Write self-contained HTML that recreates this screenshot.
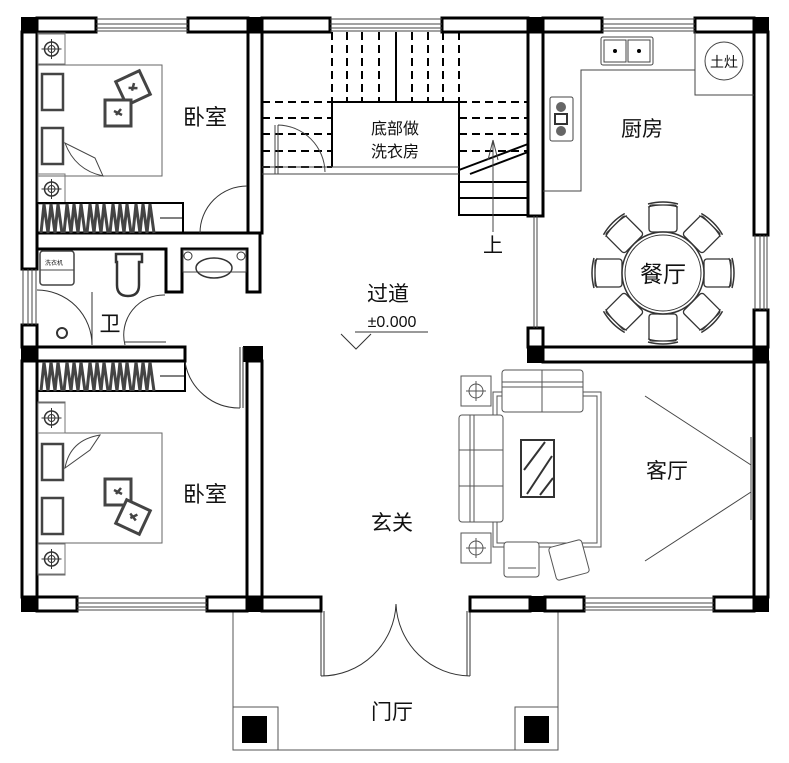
<!DOCTYPE html>
<html><head><meta charset="utf-8"><style>
html,body{margin:0;padding:0;background:#fff;}
svg{display:block;}
text{font-family:"Liberation Sans","Noto Sans CJK SC",sans-serif;fill:#111;}
</style></head><body>
<svg width="789" height="763" viewBox="0 0 789 763" xmlns="http://www.w3.org/2000/svg">
<rect width="789" height="763" fill="#fff"/>
<defs>
<g id="ns"><rect x="0" y="0" width="27" height="30" fill="none" stroke="#777" stroke-width="1"/><circle cx="13.5" cy="15" r="7" fill="none" stroke="#333" stroke-width="1.5"/><circle cx="13.5" cy="15" r="3.5" fill="none" stroke="#333"/><line x1="13.5" y1="5" x2="13.5" y2="25" stroke="#333"/><line x1="3.5" y1="15" x2="23.5" y2="15" stroke="#333"/></g>
<g id="chair"><rect x="-14" y="-13" width="28" height="27" rx="3" fill="#fff" stroke="#333" stroke-width="1.3"/><path d="M-15,-14 Q0,-18 15,-14" fill="none" stroke="#333" stroke-width="1.5"/><path d="M-15,-11 Q0,-15 15,-11" fill="none" stroke="#333" stroke-width="1"/></g>
<g id="pil"><rect x="-13" y="-13" width="26" height="26" fill="#fff" stroke="#444" stroke-width="3"/><path d="M-4,-2 L4,2 M-2,2 L3,-4" stroke="#444" stroke-width="2.5"/></g>
<g id="zig"><path d="M0,30 L3,1 L7,30 L10,1 L14,30 L17,1 L21,30" fill="none" stroke="#444" stroke-width="3"/></g>
</defs>

<!-- porch -->
<g fill="none" stroke="#555" stroke-width="1">
<line x1="233" y1="611" x2="233" y2="750"/><line x1="558" y1="611" x2="558" y2="750"/><line x1="233" y1="750" x2="558" y2="750"/>
<rect x="233" y="707" width="45" height="43"/><rect x="515" y="707" width="43" height="43"/>
</g>
<rect x="242" y="716" width="25" height="27" fill="#000"/><rect x="524" y="716" width="25" height="27" fill="#000"/>
<!-- front door -->
<g fill="none" stroke="#333" stroke-width="1">
<line x1="321" y1="611" x2="321" y2="676"/><line x1="324" y1="611" x2="324" y2="676"/>
<line x1="467" y1="611" x2="467" y2="676"/><line x1="470" y1="611" x2="470" y2="676"/>
<path d="M321,676 A75,75 0 0 0 396,604"/><path d="M470,676 A75,75 0 0 1 396,604"/>
</g>

<!-- WALLS (outlined) -->
<g fill="#fff" stroke="#000" stroke-width="3">
<rect x="37" y="18" width="59" height="14"/><rect x="188" y="18" width="60" height="14"/>
<rect x="262" y="18" width="68" height="14"/><rect x="442" y="18" width="86" height="14"/>
<rect x="543" y="18" width="59" height="14"/><rect x="695" y="18" width="59" height="14"/>
<rect x="22" y="32" width="15" height="237"/><rect x="22" y="325" width="15" height="22"/><rect x="22" y="361" width="15" height="236"/>
<rect x="754" y="32" width="14" height="203"/><rect x="754" y="310" width="14" height="37"/><rect x="754" y="362" width="14" height="235"/>
<rect x="37" y="597" width="40" height="14"/><rect x="207" y="597" width="40" height="14"/>
<rect x="262" y="597" width="59" height="14"/><rect x="470" y="597" width="60" height="14"/>
<rect x="545" y="597" width="39" height="14"/><rect x="714" y="597" width="40" height="14"/>
<rect x="248" y="32" width="14" height="201"/>
<path d="M37,233 H260 V292 H247 V249 H182 V292 H166 V249 H37 Z"/>
<rect x="37" y="347" width="148" height="14"/>
<rect x="247" y="361" width="15" height="236"/>
<rect x="528" y="32" width="15" height="184"/>
<rect x="528" y="328" width="15" height="19"/>
<rect x="543" y="347" width="211" height="15"/>
</g>
<g fill="#000">
<rect x="21" y="17" width="17" height="16"/><rect x="247" y="17" width="16" height="16"/><rect x="527" y="17" width="17" height="16"/><rect x="753" y="17" width="16" height="16"/>
<rect x="21" y="346" width="17" height="16"/><rect x="243" y="346" width="20" height="16"/>
<rect x="527" y="346" width="17" height="17"/><rect x="753" y="346" width="16" height="17"/>
<rect x="21" y="596" width="17" height="16"/><rect x="246" y="596" width="17" height="16"/><rect x="530" y="596" width="15" height="16"/><rect x="753" y="596" width="16" height="16"/>
</g>
<g stroke="#444" stroke-width="1" fill="none">
<path d="M96,19H188M96,24H188M96,28H188M96,31H188"/>
<path d="M330,19H442M330,24H442M330,28H442M330,31H442"/>
<path d="M602,19H695M602,24H695M602,28H695M602,31H695"/>
<path d="M77,598H207M77,603H207M77,607H207M77,610H207"/>
<path d="M584,598H714M584,603H714M584,607H714M584,610H714"/>
<path d="M23,269V325M28,269V325M32,269V325M36,269V325"/>
<path d="M755,235V310M760,235V310M764,235V310M767,235V310"/>
<path d="M534,216V328M537,216V328"/>
</g>

<!-- bedroom 1 -->
<g fill="none" stroke="#666" stroke-width="1">
<rect x="38" y="33" width="27" height="32"/><rect x="38" y="65" width="124" height="111"/><rect x="38" y="176" width="27" height="27"/>
</g>
<use href="#ns" x="38" y="34"/><use href="#ns" x="38" y="174"/>
<g fill="none" stroke="#444" stroke-width="2.5"><rect x="42" y="74" width="21" height="36"/><rect x="42" y="128" width="21" height="36"/></g>
<path d="M65,143 Q75,170 103,176 L95,158 Z" fill="none" stroke="#444"/>
<use href="#pil" transform="translate(133,88) rotate(-25)"/>
<use href="#pil" transform="translate(118,113)"/>
<rect x="37" y="203" width="146" height="30" fill="none" stroke="#000" stroke-width="2"/>
<line x1="160" y1="218" x2="183" y2="218" stroke="#000"/>
<g><use href="#zig" x="41" y="203"/><use href="#zig" x="64" y="203"/><use href="#zig" x="87" y="203"/><use href="#zig" x="110" y="203"/><use href="#zig" x="133" y="203"/></g>
<path d="M200,233 A47,47 0 0 1 247,186" fill="none" stroke="#333"/>

<!-- bathroom -->
<rect x="40" y="251" width="34" height="34" rx="3" fill="none" stroke="#444" stroke-width="1.5"/>
<line x1="40" y1="270" x2="74" y2="270" stroke="#444"/>
<text x="45" y="265" font-size="6">洗衣机</text>
<path d="M116,254 H142 V262 H139 V285 Q139,296 128,296 Q117,296 117,285 V262 H116 Z" fill="none" stroke="#333" stroke-width="2.5"/>
<rect x="183" y="250" width="63" height="22" fill="none" stroke="#444"/>
<ellipse cx="214" cy="268" rx="18" ry="10" fill="none" stroke="#333" stroke-width="1.5"/>
<circle cx="188" cy="256" r="4" fill="none" stroke="#333"/><circle cx="241" cy="256" r="4" fill="none" stroke="#333"/>
<path d="M37,290 A55,55 0 0 1 92,345 M92,345V292" fill="none" stroke="#333"/>
<path d="M125,345 A40,40 0 0 1 165,295 M125,342H166" fill="none" stroke="#333"/>
<circle cx="62" cy="333" r="5" fill="none" stroke="#333" stroke-width="2"/>
<text x="110" y="331" font-size="21" text-anchor="middle">卫</text>

<!-- bedroom 2 -->
<rect x="37" y="361" width="148" height="30" fill="none" stroke="#000" stroke-width="2"/>
<line x1="160" y1="376" x2="185" y2="376" stroke="#000"/>
<g><use href="#zig" x="41" y="361"/><use href="#zig" x="64" y="361"/><use href="#zig" x="87" y="361"/><use href="#zig" x="110" y="361"/><use href="#zig" x="133" y="361"/></g>
<path d="M185,362 A55,55 0 0 0 240,408 M240,347V408 M243,347V408" fill="none" stroke="#333"/>
<g fill="none" stroke="#666" stroke-width="1">
<rect x="38" y="402" width="27" height="31"/><rect x="38" y="433" width="124" height="110"/><rect x="38" y="543" width="27" height="32"/>
</g>
<use href="#ns" x="38" y="403"/><use href="#ns" x="38" y="544"/>
<g fill="none" stroke="#444" stroke-width="2.5"><rect x="42" y="444" width="21" height="36"/><rect x="42" y="498" width="21" height="36"/></g>
<path d="M65,468 Q70,440 100,435 L90,450 Z" fill="none" stroke="#444"/>
<use href="#pil" transform="translate(118,492)"/>
<use href="#pil" transform="translate(133,517) rotate(25)"/>

<!-- stairs -->
<g stroke="#000" stroke-width="2" fill="none" stroke-dasharray="8,5">
<path d="M332,32V102 M347,32V102 M362,32V102 M379,32V102 M412,32V102 M428,32V102 M443,32V102 M459,32V102"/>
<path d="M262,102H332 M262,118H332 M262,134H332 M262,151H332 M262,167H332"/>
<path d="M459,102H528 M459,118H528 M459,134H528 M459,151H528"/>
</g>
<path d="M396,32V102" stroke="#000" stroke-width="2"/>
<g stroke="#000" stroke-width="2" fill="none">
<path d="M332,102V167 M459,102H332 M459,102V216 M459,182H528 M459,198H528 M459,215H528 M459,170L528,144 M470,174L528,152"/>
</g>
<g stroke="#444" stroke-width="1" fill="none">
<path d="M262,167H459 M262,174H459 M493,142V232 M275,125V174 M278,125V174 M278,125 A48,48 0 0 1 325,172"/>
<path d="M493,140 L488,160 M493,140 L498,160"/>
</g>
<text x="395" y="134" font-size="16" text-anchor="middle">底部做</text>
<text x="395" y="157" font-size="16" text-anchor="middle">洗衣房</text>
<text x="493" y="252" font-size="20" text-anchor="middle">上</text>

<!-- corridor -->
<text x="388" y="301" font-size="21" text-anchor="middle">过道</text>
<text x="392" y="327" font-size="16" text-anchor="middle" fill="#333">±0.000</text>
<path d="M355,332H428 M341,334L356,349L371,334" fill="none" stroke="#333"/>

<!-- kitchen -->
<g fill="none" stroke="#444" stroke-width="1">
<path d="M543,191H581V70H695 M695,32V95H754"/>
<rect x="601" y="37" width="52" height="28" rx="2"/><rect x="604" y="40" width="22" height="22"/><rect x="628" y="40" width="22" height="22"/>
<rect x="550" y="97" width="23" height="44" rx="2"/>
<circle cx="724" cy="61" r="19"/>
</g>
<circle cx="561" cy="107" r="5" fill="#666"/><circle cx="561" cy="131" r="5" fill="#666"/><rect x="555" y="114" width="12" height="10" fill="none" stroke="#333" stroke-width="2"/>
<circle cx="615" cy="51" r="2" fill="#000"/><circle cx="639" cy="51" r="2" fill="#000"/>
<text x="724" y="67" font-size="14" text-anchor="middle" fill="#333">土灶</text>
<text x="642" y="136" font-size="21" text-anchor="middle">厨房</text>

<!-- dining -->
<use href="#chair" transform="translate(663,218)"/>
<use href="#chair" transform="translate(702,234) rotate(45)"/>
<use href="#chair" transform="translate(718,273) rotate(90)"/>
<use href="#chair" transform="translate(702,312) rotate(135)"/>
<use href="#chair" transform="translate(663,328) rotate(180)"/>
<use href="#chair" transform="translate(624,312) rotate(225)"/>
<use href="#chair" transform="translate(608,273) rotate(270)"/>
<use href="#chair" transform="translate(624,234) rotate(315)"/>
<circle cx="663" cy="273" r="41" fill="#fff" stroke="#333" stroke-width="1.5"/>
<circle cx="663" cy="273" r="38" fill="none" stroke="#333" stroke-width="1"/>
<text x="663" y="282" font-size="23" text-anchor="middle">餐厅</text>

<!-- living -->
<g fill="#fff" stroke="#555" stroke-width="1">
<rect x="493" y="392" width="108" height="155"/>
<rect x="497" y="396" width="100" height="147" fill="none"/>
<rect x="502" y="370" width="81" height="42" rx="3"/><path d="M502,382H583M502,387H583M542,370V412"/>
<rect x="459" y="415" width="44" height="107" rx="3"/><path d="M470,415V522M474,415V522M459,450H503M459,486H503"/>
<rect x="461" y="376" width="30" height="30"/><circle cx="476" cy="391" r="7" fill="none"/><path d="M476,381V401M466,391H486"/>
<rect x="461" y="533" width="30" height="30"/><circle cx="476" cy="548" r="7" fill="none"/><path d="M476,538V558M466,548H486"/>
<rect x="504" y="542" width="35" height="35" rx="3"/><path d="M508,568H536"/>
<rect x="552" y="543" width="34" height="34" rx="3" transform="rotate(-15 569 560)"/>
</g>
<rect x="521" y="440" width="33" height="57" fill="none" stroke="#333" stroke-width="2"/>
<path d="M524,470L545,442 M527,494L552,456 M540,495L553,478" stroke="#333" stroke-width="2"/>
<path d="M645,396L751,465 M645,561L751,492 M751,437V520" fill="none" stroke="#444" stroke-width="1"/>
<text x="667" y="478" font-size="21" text-anchor="middle">客厅</text>

<text x="205" y="125" font-size="22" text-anchor="middle">卧室</text>
<text x="205" y="502" font-size="22" text-anchor="middle">卧室</text>
<text x="392" y="530" font-size="21" text-anchor="middle">玄关</text>
<text x="392" y="719" font-size="21" text-anchor="middle">门厅</text>
</svg>
</body></html>
